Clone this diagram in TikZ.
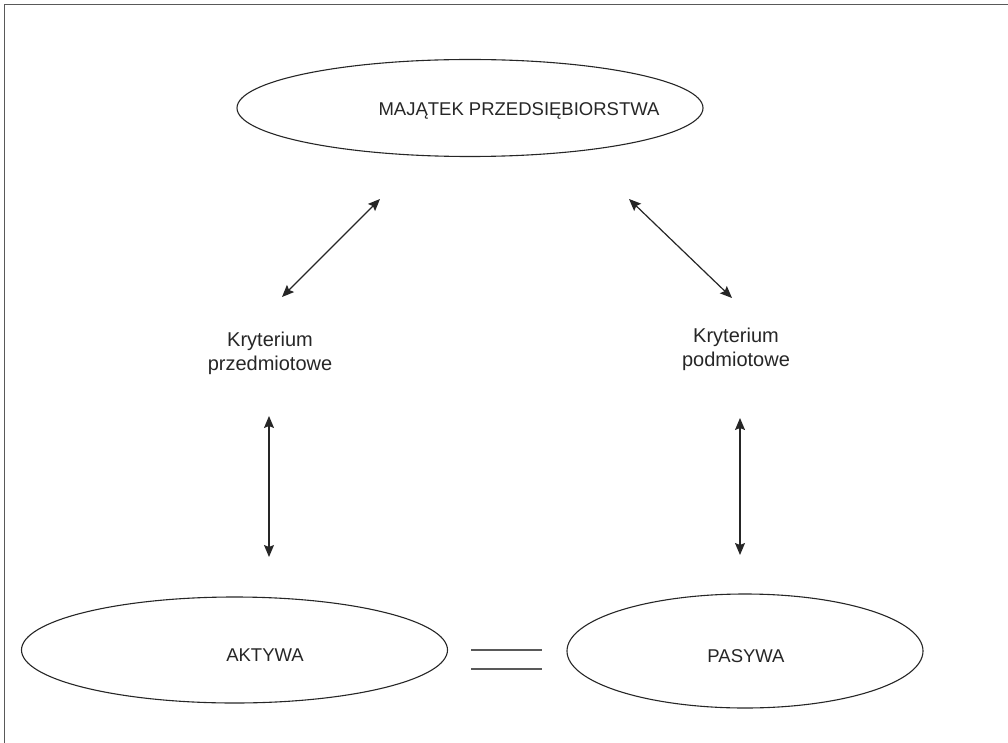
\documentclass[tikz,border=0pt]{standalone}
\usepackage{fontspec}
\setmainfont{Liberation Sans}
\usetikzlibrary{shapes.geometric,arrows.meta}
\tikzset{
  oval/.style={ellipse,draw=black!85,line width=1.1pt,inner sep=0pt},
  caps/.style={anchor=base,inner sep=0pt,text=black!85,font=\fontsize{18.5}{22}\selectfont},
  lbl/.style={anchor=base,inner sep=0pt,text=black!85,font=\fontsize{20}{24}\selectfont},
  dbl/.style={line width=1.2pt,draw=black!85,{Stealth[length=12pt,width=10pt,inset=2pt]}-{Stealth[length=12pt,width=10pt,inset=2pt]}},
  eqline/.style={line width=1.6pt,draw=black!65},
  frameline/.style={line width=1.8pt,draw=black!65}
}
\begin{document}
\begin{tikzpicture}[x=1pt,y=-1pt]
\useasboundingbox (0,0) rectangle (1008,743);
\draw[frameline] (1008,4.5) -- (4.5,4.5) -- (4.5,743);
% ellipses
\node[oval,minimum width=466pt,minimum height=97pt] (top) at (470,108) {};
\node[oval,minimum width=426pt,minimum height=106pt] (akt) at (234.5,650) {};
\node[oval,minimum width=356pt,minimum height=114pt] (pas) at (745,651) {};
% texts
\node[caps] (toptxt) at (519,116) {MAJĄTEK PRZEDSIĘBIORSTWA};
\node[caps] (akttxt) at (265,661) {AKTYWA};
\node[caps] (pastxt) at (746,662) {PASYWA};
\node[lbl] (l1) at (270,346) {Kryterium};
\node[lbl] (l2) at (270,370) {przedmiotowe};
\node[lbl] (r1) at (736,342) {Kryterium};
\node[lbl] (r2) at (736,366) {podmiotowe};
% arrow ends
\coordinate (a1) at (380,199);
\coordinate (a2) at (282,297);
\coordinate (b1) at (629,199);
\coordinate (b2) at (732,298);
\coordinate (c1) at (269,416);
\coordinate (c2) at (269,557);
\coordinate (d1) at (740,418);
\coordinate (d2) at (740,555);
\draw[dbl] (a2) -- (a1);
\draw[dbl] (b1) -- (b2);
\draw[dbl] (c1) -- (c2);
\draw[dbl] (d1) -- (d2);
% equals
\coordinate (e1) at (471,650);
\coordinate (e2) at (542,650);
\coordinate (e3) at (471,669);
\coordinate (e4) at (542,669);
\draw[eqline] (e1) -- (e2);
\draw[eqline] (e3) -- (e4);
\end{tikzpicture}
\end{document}
